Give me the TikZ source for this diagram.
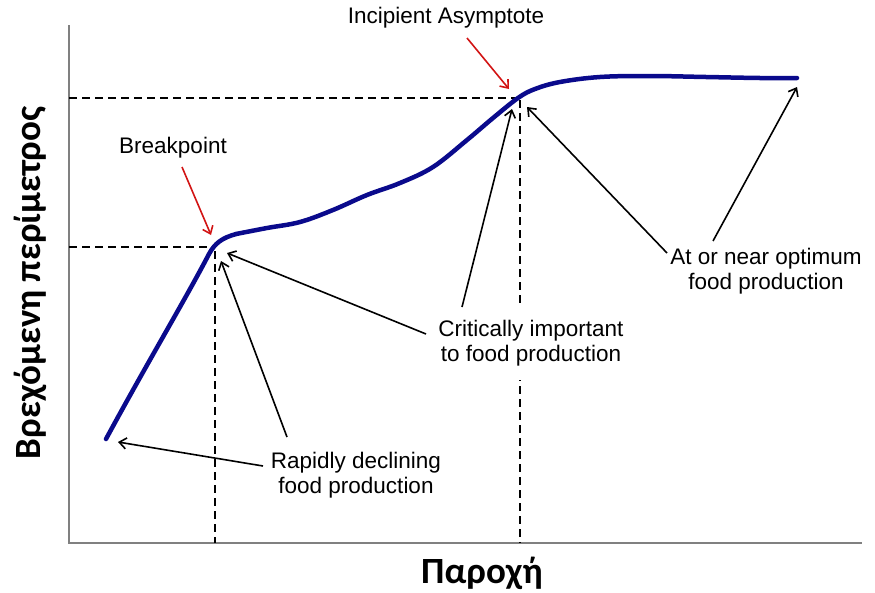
\documentclass[tikz,border=0pt]{standalone}
\usepackage{fontspec}
\setmainfont{Liberation Sans}
\newfontfamily\greekfont{Carlito}
\usetikzlibrary{arrows.meta}
\definecolor{curveblue}{RGB}{10,10,140}
\definecolor{axisgray}{RGB}{128,128,128}
\definecolor{arrowred}{RGB}{210,20,20}
\tikzset{
  lbl/.style={font=\fontsize{22.5}{25.5}\selectfont, align=center, inner sep=0pt},
  axislbl/.style={font=\greekfont\bfseries\fontsize{37}{40}\selectfont, inner sep=0pt},
  axisline/.style={draw=axisgray, line width=1.6pt},
  guide/.style={draw=black, line width=1.8pt, dash pattern=on 8pt off 5pt},
  curveline/.style={draw=curveblue, line width=4.5pt, line cap=round, line join=round},
  blackarrow/.style={draw=black, line width=1.6pt, -{Straight Barb[length=7pt,width=11pt]}},
  redarrow/.style={draw=arrowred, line width=1.6pt, -{Straight Barb[length=7pt,width=11pt]}},
}
\begin{document}
\begin{tikzpicture}[x=1pt,y=-1pt]
\useasboundingbox (0,0) rectangle (875,592);
% axes
\coordinate (origin) at (69,543);
\coordinate (ytop) at (69,25);
\coordinate (xend) at (862,543);
\draw[axisline] (ytop) -- (origin) -- (xend);
% key points
\coordinate (start) at (106,439);
\coordinate (bp) at (213,247);
\coordinate (ia) at (518,98);
\coordinate (fin) at (797,78);
% guides
\coordinate (bpy) at (69,247);
\coordinate (bpx) at (215,543);
\coordinate (iay) at (69,98);
\coordinate (iax) at (520,543);
\draw[guide] (bpy) -- (bp);
\draw[guide] (iay) -- (ia);
\draw[guide] (215,251) -- (bpx);
\draw[guide] (520,100) -- (iax);
% curve
\draw[curveline] (start) .. controls (150,358) and (185,300) .. (209,254)
  .. controls (215,243) and (222,238) .. (236,234);
\draw[curveline] plot[smooth, tension=0.6] coordinates {
 (236,234) (267,228) (300,222)
 (333,210) (367,195) (400,183) (433,167) (467,140) (493,118) (518,98)
 (535,89) (560,82) (600,77) (650,76) (706,77) (760,78) (797,78)};
% labels
\node[lbl] (brk) at (173,148) {Breakpoint};
\node[lbl] (inc) at (446,18) {Incipient Asymptote};
\node[lbl] (opt) at (766,271) {At or near optimum\\food production};
\node[lbl, fill=white, inner xsep=3pt, inner ysep=14pt] (crit) at (531,343) {Critically important\\to food production};
\node[lbl] (rap) at (356,475) {Rapidly declining\\food production};
\node[axislbl] (xl) at (482,573) {Παροχή};
\node[axislbl, rotate=90] (yl) at (30,283) {Βρεχόμενη περίμετρος};
% red arrows
\coordinate (brkt) at (211,235);
\coordinate (inct) at (509,89);
\draw[redarrow] (182,167) -- (brkt);
\draw[redarrow] (467,38) -- (inct);
% black arrows
\coordinate (t1) at (118,442);
\coordinate (t2) at (221,261);
\coordinate (t3) at (227,253);
\coordinate (t4) at (512,109);
\coordinate (t5) at (527,107);
\coordinate (t6) at (797,87);
\draw[blackarrow] (263,466) -- (t1);
\draw[blackarrow] (287,437) -- (t2);
\draw[blackarrow] (426,334) -- (t3);
\draw[blackarrow] (462,307) -- (t4);
\draw[blackarrow] (667,253) -- (t5);
\draw[blackarrow] (713,241) -- (t6);
\end{tikzpicture}
\end{document}
